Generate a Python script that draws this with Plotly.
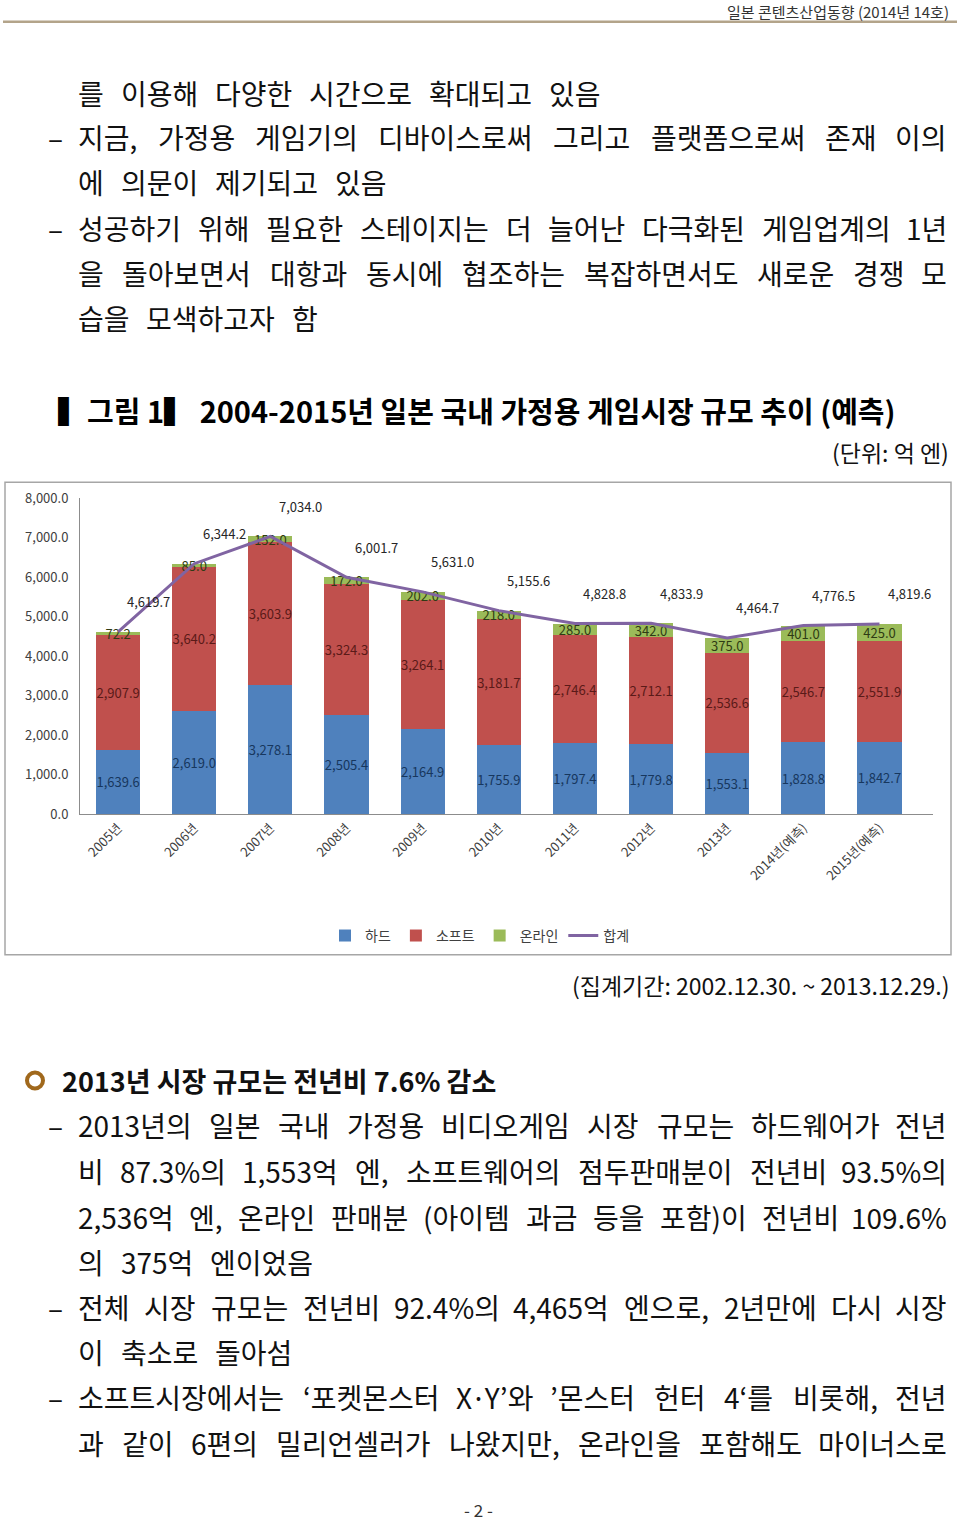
import plotly.graph_objects as go

# ---------------- data ----------------
years = ["2005년", "2006년", "2007년", "2008년", "2009년", "2010년",
         "2011년", "2012년", "2013년", "2014년(예측)", "2015년(예측)"]
hard = [1639.6, 2619.0, 3278.1, 2505.4, 2164.9, 1755.9, 1797.4, 1779.8, 1553.1, 1828.8, 1842.7]
soft = [2907.9, 3640.2, 3603.9, 3324.3, 3264.1, 3181.7, 2746.4, 2712.1, 2536.6, 2546.7, 2551.9]
online = [72.2, 85.0, 152.0, 172.0, 202.0, 218.0, 285.0, 342.0, 375.0, 401.0, 425.0]
total = [4619.7, 6344.2, 7034.0, 6001.7, 5631.0, 5155.6, 4828.8, 4833.9, 4464.7, 4776.5, 4819.6]
series_names = ["하드", "소프트", "온라인", "합계"]

header_text = "일본 콘텐츠산업동향 (2014년 14호)"
para1 = [
    ("", "를 이용해 다양한 시간으로 확대되고 있음", False),
    ("–", "지금, 가정용 게임기의 디바이스로써 그리고 플랫폼으로써 존재 이의", True),
    ("", "에 의문이 제기되고 있음", False),
    ("–", "성공하기 위해 필요한 스테이지는 더 늘어난 다극화된 게임업계의 1년", True),
    ("", "을 돌아보면서 대항과 동시에 협조하는 복잡하면서도 새로운 경쟁 모", True),
    ("", "습을 모색하고자 함", False),
]
fig_title = "▍그림 1▍ 2004-2015년 일본 국내 가정용 게임시장 규모 추이 (예측)"
unit_text = "(단위: 억 엔)"
period_text = "(집계기간: 2002.12.30. ~ 2013.12.29.)"
section_title = "2013년 시장 규모는 전년비 7.6% 감소"
para2 = [
    ("–", "2013년의 일본 국내 가정용 비디오게임 시장 규모는 하드웨어가 전년", True),
    ("", "비 87.3%의 1,553억 엔, 소프트웨어의 점두판매분이 전년비 93.5%의", True),
    ("", "2,536억 엔, 온라인 판매분 (아이템 과금 등을 포함)이 전년비 109.6%", True),
    ("", "의 375억 엔이었음", False),
    ("–", "전체 시장 규모는 전년비 92.4%의 4,465억 엔으로, 2년만에 다시 시장", True),
    ("", "이 축소로 돌아섬", False),
    ("–", "소프트시장에서는 ‘포켓몬스터 X·Y’와 ’몬스터 헌터 4‘를 비롯해, 전년", True),
    ("", "과 같이 6편의 밀리언셀러가 나왔지만, 온라인을 포함해도 마이너스로", True),
]
page_no = "- 2 -"

# ---------------- page geometry ----------------
W, H = 960, 1523
KR = "Noto Sans CJK KR"
BODY_FS = 28
# small vertical calibration of the photographed page
Y_OFF, Y_SCALE = 9.2, 0.9906


def px(x):
    return x / W


def py(y):
    return 1 - ((y - Y_OFF) / Y_SCALE) / H


def text_width(s, fs):
    w = 0.0
    for ch in s:
        o = ord(ch)
        if 0xAC00 <= o <= 0xD7A3:
            w += 0.92 * fs
        elif ch.isdigit():
            w += 0.555 * fs
        elif ch in ",.":
            w += 0.27 * fs
        elif ch == "%":
            w += 0.87 * fs
        elif ch in "()":
            w += 0.33 * fs
        elif ch in "'‘’":
            w += 0.22 * fs
        elif ch == "·":
            w += 0.25 * fs
        elif ch == "X":
            w += 0.6 * fs
        elif ch == "Y":
            w += 0.56 * fs
        else:
            w += 0.5 * fs
    return w


annotations = []


def add_line(text, ypix, justify, x0=78, x1=949, fs=BODY_FS, gap=17, color="#111111"):
    words = text.split(" ")
    widths = [text_width(w, fs) for w in words]
    n = len(words)
    if justify and n > 1:
        g = (x1 - x0 - sum(widths)) / (n - 1)
    else:
        g = gap
    x = x0
    for i, (wd, ww) in enumerate(zip(words, widths)):
        if justify and n > 1 and i == n - 1:
            ax, anchor = x1, "right"
        elif i == 0:
            ax, anchor = x0 - 2, "left"
        else:
            ax, anchor = x + ww / 2, "center"
        annotations.append(dict(
            text=wd, x=px(ax), y=py(ypix), xref="paper", yref="paper",
            xanchor=anchor, yanchor="middle", showarrow=False,
            font=dict(family=KR, size=fs, color=color)))
        x += ww + g


def add_block(lines, ys):
    for (dash, text, just), yy in zip(lines, ys):
        if dash:
            annotations.append(dict(
                text=dash, x=px(55), y=py(yy), xref="paper", yref="paper",
                xanchor="center", yanchor="middle", showarrow=False,
                font=dict(family=KR, size=BODY_FS, color="#111111")))
        add_line(text, yy, just)


add_block(para1, [92, 137, 182, 228, 273, 318])
add_block(para2, [1128, 1174, 1220, 1265, 1310, 1355, 1401, 1447])

simple_texts = [
    (header_text, 951, 10.5, "right", 15, False, "#333333"),
    (fig_title, 56, 410, "left", 29, True, "#000000"),
    (unit_text, 951, 453, "right", 23, False, "#111111"),
    (period_text, 951, 987, "right", 23, False, "#111111"),
    (section_title, 60, 1083, "left", 27, True, "#111111"),
    (page_no, 478, 1513, "center", 17, False, "#333333"),
]
for t, xx, yy, anc, fs, bold, col in simple_texts:
    annotations.append(dict(
        text=f"<b>{t}</b>" if bold else t, x=px(xx), y=py(yy), xref="paper", yref="paper",
        xanchor=anc, yanchor="middle", showarrow=False,
        font=dict(family=KR, size=fs, color=col)))

# total labels
for yr, v in zip(years, total):
    annotations.append(dict(
        text=f"{v:,.1f}", x=yr, y=v, xref="x", yref="y", showarrow=False,
        xshift=30, yshift=30, font=dict(family=KR, size=13, color="#262626")))

# ---------------- chart ----------------
fig = go.Figure()
bar_specs = [
    (series_names[0], hard, "#4F81BD", "#17375E"),
    (series_names[1], soft, "#C0504D", "#5A1A18"),
    (series_names[2], online, "#9BBB59", "#2F3B14"),
]
for name, vals, col, tcol in bar_specs:
    fig.add_trace(go.Bar(
        name=name, x=years, y=vals, marker=dict(color=col, line=dict(width=0)),
        texttemplate="%{y:,.1f}", textposition="inside", insidetextanchor="middle",
        textangle=0, constraintext="none",
        textfont=dict(family=KR, size=13, color=tcol)))
fig.add_trace(go.Scatter(
    name=series_names[3], x=years, y=total, mode="lines",
    line=dict(color="#8064A2", width=3)))

fig.update_layout(
    width=W, height=H, margin=dict(l=0, r=0, t=0, b=0),
    paper_bgcolor="white", plot_bgcolor="white",
    barmode="stack", bargap=0.42,
    font=dict(family=KR, color="#404040"),
    xaxis=dict(domain=[px(80), px(933)], showline=True, linecolor="#8c8c8c",
               tickangle=-45, tickfont=dict(family=KR, size=13, color="#404040"),
               ticks="", showgrid=False),
    yaxis=dict(domain=[py(816), py(499)], range=[0, 8000], dtick=1000,
               tickformat=",.1f", showline=True, linecolor="#8c8c8c",
               showgrid=False, zeroline=False, ticks="",
               tickfont=dict(family=KR, size=13, color="#404040"),
               ticklabelstandoff=8),
    legend=dict(orientation="h", x=0.5, xanchor="center", y=py(938), yanchor="middle",
                traceorder="normal", font=dict(family=KR, size=14, color="#404040"),
                itemwidth=30),
    showlegend=True,
    annotations=annotations,
    shapes=[
        dict(type="line", xref="paper", yref="paper", x0=px(3), x1=px(957),
             y0=py(21), y1=py(21), line=dict(color="#B3A48A", width=2.5)),
        dict(type="rect", xref="paper", yref="paper", x0=px(5), x1=px(951),
             y0=py(957), y1=py(483), line=dict(color="#A6A6A6", width=1.5)),
        dict(type="circle", xref="paper", yref="paper", x0=px(27), x1=px(43),
             y0=py(1091), y1=py(1075), line=dict(color="#A0681C", width=4)),
    ],
)

fig.write_html(
    "out.html",
    config={"displayModeBar": False},
    post_script=(
        "document.documentElement.style.margin='0';"
        "document.body.style.margin='0';document.body.style.padding='0';"
        "var gd=document.getElementById('{plot_id}');"
        "gd.style.position='fixed';gd.style.top='0px';gd.style.left='0px';"
        "document.documentElement.style.overflow='hidden';"
    ),
)
